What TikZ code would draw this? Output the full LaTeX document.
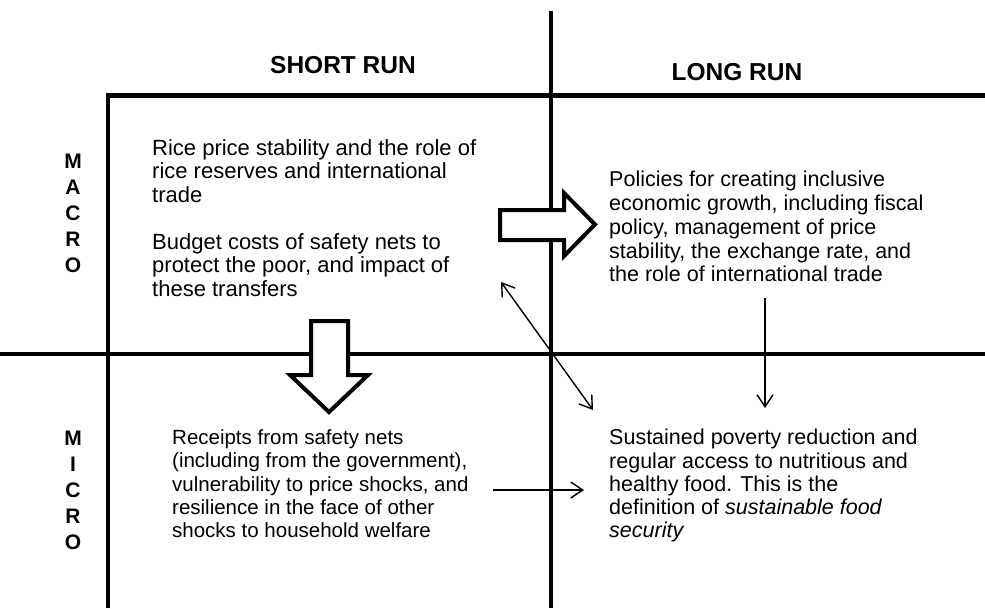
\documentclass[tikz,border=0pt]{standalone}
\usepackage{fontspec}
\setmainfont{Liberation Sans}
\usetikzlibrary{arrows.meta}
\begin{document}
\begin{tikzpicture}[x=1pt,y=-1pt,
  grid/.style={line width=4.5pt},
  blockarrow/.style={draw, fill=white, line width=4pt, miter limit=10},
  thinarrow/.style={line width=1.4pt, -{Straight Barb[length=12pt,width=16pt]}},
  bothways/.style={line width=1.4pt, {Straight Barb[length=12pt,width=16pt]}-{Straight Barb[length=12pt,width=16pt]}},
  body/.style={anchor=north west, inner sep=0pt, align=left},
  colhead/.style={inner sep=0pt, font=\bfseries\fontsize{24.5}{28}\selectfont},
  rowhead/.style={inner sep=0pt, align=center, font=\bfseries\fontsize{21}{26}\selectfont}]
\useasboundingbox (0,0) rectangle (985,608);

% quadrant frame
\draw[grid] (551,11) -- (551,608);
\draw[grid] (108,608) -- (108,95.5) -- (985,95.5);
\draw[grid] (0,354) -- (985,354);

% column and row headings
\node[colhead] (shortrun) at (343,65) {SHORT RUN};
\node[colhead] (longrun) at (737,72) {LONG RUN};
\node[rowhead] (macro) at (73,213) {M\\A\\C\\R\\O};
\node[rowhead] (micro) at (73,490) {M\\I\\C\\R\\O};

% quadrant texts
\node[body, font=\fontsize{22}{23.3}\selectfont] (rice) at (152,139.5)
  {Rice price stability and the role of\\rice reserves and international\\trade};
\node[body, font=\fontsize{22}{23.3}\selectfont] (budget) at (152,233.5)
  {Budget costs of safety nets to\\protect the poor, and impact of\\these transfers};
\node[body, font=\fontsize{21.5}{23.8}\selectfont] (policies) at (609,171)
  {Policies for creating inclusive\\economic growth, including fiscal\\policy, management of price\\stability, the exchange rate, and\\the role of international trade};
\node[body, font=\fontsize{20.5}{23.3}\selectfont] (receipts) at (172,429.5)
  {Receipts from safety nets\\(including from the government),\\vulnerability to price shocks, and\\resilience in the face of other\\shocks to household welfare};
\node[body, font=\fontsize{21.5}{23.3}\selectfont] (poverty) at (609,429)
  {Sustained poverty reduction and\\regular access to nutritious and\\healthy food. This is the\\definition of \textit{sustainable food}\\\textit{security}};

% block arrows
\draw[blockarrow] (311,321) -- (348,321) -- (348,375) -- (368,375) -- (329,412)
  -- (290,375) -- (311,375) -- cycle;
\draw[blockarrow] (500,210) -- (564,210) -- (564,193) -- (595,224.5) -- (564,256)
  -- (564,240) -- (500,240) -- cycle;

% thin connectors
\coordinate (diagA) at (501,282);
\coordinate (diagB) at (593,410);
\coordinate (downA) at (765,298);
\coordinate (downB) at (765,408);
\coordinate (rightA) at (493,490);
\coordinate (rightB) at (584,490);
\draw[bothways] (diagA) -- (diagB);
\draw[thinarrow] (downA) -- (downB);
\draw[thinarrow] (rightA) -- (rightB);
\end{tikzpicture}
\end{document}
